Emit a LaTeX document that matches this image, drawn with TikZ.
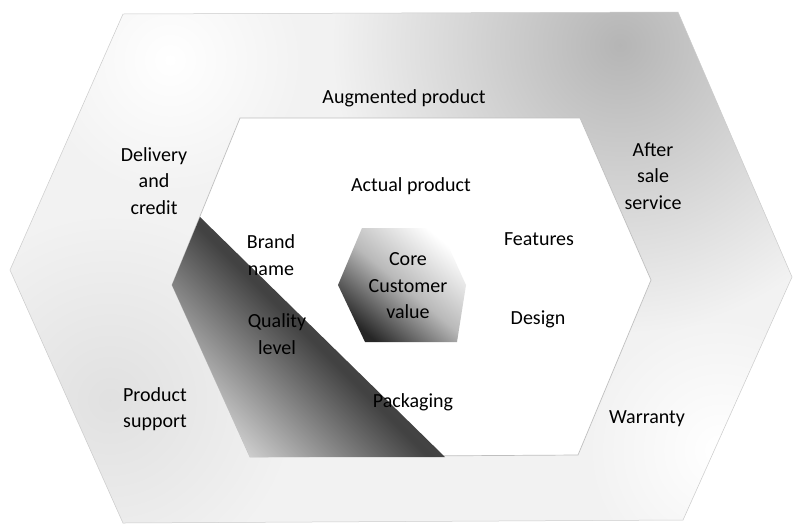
\documentclass[tikz,border=0pt]{standalone}
\usepackage{fontspec}
\setmainfont{Carlito}
\begin{document}
\begin{tikzpicture}[x=1pt,y=-1pt,
  lbl/.style={align=center, font=\fontsize{20}{26.5}\selectfont, inner sep=0pt, text=black}]
\useasboundingbox (0,0) rectangle (794,531);
\fill[white] (0,0) rectangle (794,531);
% outer hexagon (augmented product)
\def\outerhex{(123,14) -- (678,12) -- (792,277) -- (683,520) -- (123,523) -- (10,270) -- cycle}
\fill[gray!10] \outerhex;
\begin{scope}
  \clip \outerhex;
  \shade[inner color=gray!58, outer color=gray!10] (620,45) circle (290);
  \shade[inner color=gray!24, outer color=gray!10] (110,400) circle (190);
  \shade[inner color=white, outer color=gray!10] (720,450) circle (130);
  \shade[inner color=white, outer color=gray!10] (170,60) circle (130);
\end{scope}
\draw[gray!40, line width=0.5pt] \outerhex;
% middle hexagon (actual product)
\fill[white, draw=gray!50, line width=0.7pt] (240,118) -- (580,118) -- (651,280) -- (578,455) -- (250,457) -- (172,285) -- cycle;
% shadow inside middle hexagon
\shade[top color=black!72, bottom color=gray!38, middle color=black!74, shading angle=-45]
  (200,217) -- (445,457) -- (250,457) -- (172,285) -- cycle;
% core hexagon
\shade[top color=white, bottom color=black!85, middle color=gray!55, shading angle=-40]
  (362,228) -- (440,228) -- (466,285) -- (457,342) -- (365,342) -- (338,285) -- cycle;
% labels
\node[lbl] (aug) at (404,98) {Augmented product};
\node[lbl] (deliv) at (154,181) {Delivery\\and\\credit};
\node[lbl] (act) at (411,186) {Actual product};
\node[lbl] (after) at (653,176) {After\\sale\\service};
\node[lbl] (brand) at (271,255) {Brand\\name};
\node[lbl] (core) at (408,286) {Core\\Customer\\value};
\node[lbl] (feat) at (539,239) {Features};
\node[lbl] (design) at (538,319) {Design};
\node[lbl] (qual) at (277,334) {Quality\\level};
\node[lbl] (pack) at (413,402) {Packaging};
\node[lbl] (prod) at (155,409) {Product\\support};
\node[lbl] (warr) at (647,419) {Warranty};
\end{tikzpicture}
\end{document}
